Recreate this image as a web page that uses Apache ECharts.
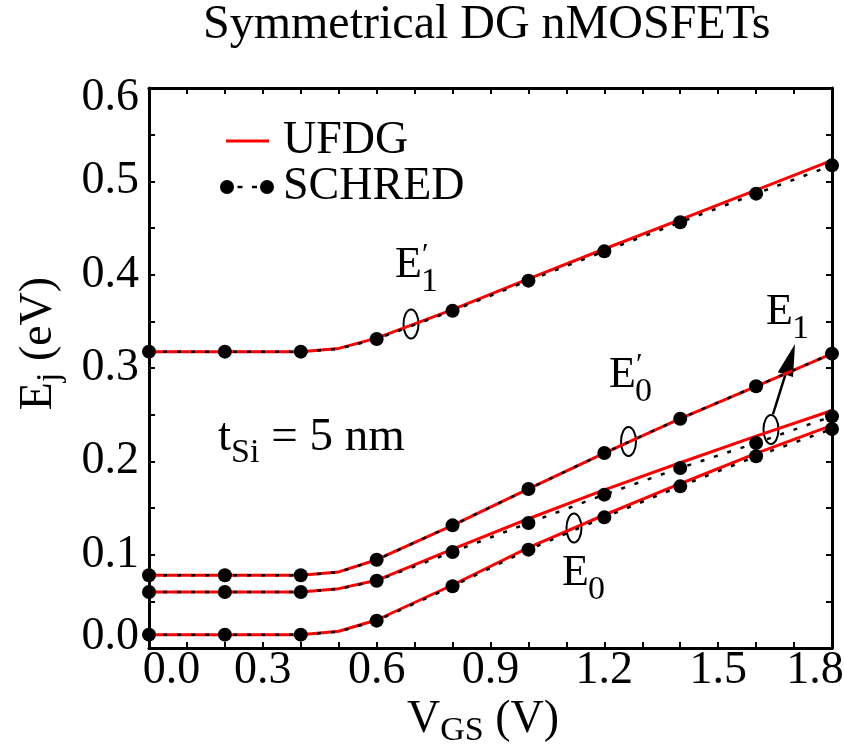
<!DOCTYPE html>
<html><head><meta charset="utf-8">
<script src="https://cdn.jsdelivr.net/npm/echarts@6/dist/echarts.min.js"></script>
<style>html,body{margin:0;padding:0;background:#fff;}#c{width:844px;height:747px;}</style>
</head><body><div id="c"></div>
<script>
const FONT = 'Liberation Serif';
// x positions of the curves (0.5 is the kink point, drawn without marker)
const xLine = [0, 0.2, 0.4, 0.5, 0.6, 0.8, 1.0, 1.2, 1.4, 1.6, 1.8];
// SCHRED (symbols + dotted line)
const schredE1p = [0.3175, 0.3175, 0.3175, 0.3205, 0.3311, 0.3614, 0.3936, 0.4250, 0.4561, 0.4868, 0.5171];
const schredE0p = [0.0779, 0.0779, 0.0779, 0.0812, 0.0946, 0.1314, 0.1704, 0.2089, 0.2457, 0.2804, 0.3154];
const schredE1  = [0.0600, 0.0600, 0.0600, 0.0632, 0.0721, 0.1029, 0.1339, 0.1643, 0.1929, 0.2196, 0.2482];
const schredE0  = [0.0143, 0.0143, 0.0143, 0.0175, 0.0293, 0.0661, 0.1054, 0.1400, 0.1732, 0.2054, 0.2346];
// UFDG (red solid line)
const ufdgE1p = [0.3175, 0.3175, 0.3175, 0.3210, 0.3320, 0.3625, 0.3955, 0.4275, 0.4590, 0.4905, 0.5225];
const ufdgE0p = [0.0779, 0.0779, 0.0779, 0.0815, 0.0946, 0.1314, 0.1704, 0.2089, 0.2457, 0.2804, 0.3154];
const ufdgE1  = [0.0600, 0.0600, 0.0600, 0.0636, 0.0725, 0.1060, 0.1385, 0.1695, 0.1985, 0.2270, 0.2545];
const ufdgE0  = [0.0143, 0.0143, 0.0143, 0.0180, 0.0300, 0.0675, 0.1075, 0.1425, 0.1760, 0.2085, 0.2385];
const xTickLabels = ['0.0', '0.3', '0.6', '0.9', '1.2', '1.5', '1.8'];
const yTickLabels = ['0.0', '0.1', '0.2', '0.3', '0.4', '0.5', '0.6'];
// annotations (data coordinates)
const annoLabels = [
  {sub: '1', prime: true,  at: [0.6483, 0.3943]},
  {sub: '0', prime: true,  at: [1.2123, 0.2764]},
  {sub: '1', prime: false, at: [1.6260, 0.3439]},
  {sub: '0', prime: false, at: [1.0884, 0.0643]}
];
const ellipseCenters = [[0.6905, 0.3471], [1.2637, 0.2213], [1.1200, 0.1286], [1.6392, 0.2341]];
const arrowFrom = [1.6445, 0.2507];
const arrowTo = [1.7025, 0.3257];
const tSiAt = [0.1818, 0.2089];

const chart = echarts.init(document.getElementById('c'), null, {renderer: 'canvas'});

const axisLineStyle = {color: '#000', width: 3};
const tickStyle = {show: true, inside: true, length: 6, lineStyle: {color: '#000', width: 2}};
const txt = (size) => ({fontSize: size, fontFamily: FONT, color: '#000'});

function xFmt(v) {
  const k = Math.round(v * 10);
  if (k % 3 !== 0) return '';
  const s = xTickLabels[k / 3];
  if (k === 0) return '{l|' + s + '}';
  if (k === 18) return '{r|' + s + '}';
  return '{n|' + s + '}';
}
function yFmt(v) {
  const k = Math.round(v * 100);
  if (k % 10 !== 0) return '';
  const s = yTickLabels[k / 10];
  if (k === 0) return '{b|' + s + '}';
  if (k === 60) return '{t|' + s + '}';
  return '{n|' + s + '}';
}

const ufdgIcon = 'path://M0,0L0.01,0L0.01,0.01Z M54,14L53.99,14L53.99,13.99Z M6,5.5H49V8.5H6Z';
const schredIcon = 'path://M0,7A7,7,0,1,0,14,7A7,7,0,1,0,0,7Z M17.5,5.8H22.5V8.2H17.5Z M32,5.8H37V8.2H32Z M40,7A7,7,0,1,0,54,7A7,7,0,1,0,40,7Z';

const ufdgCurves = [ufdgE1p, ufdgE0p, ufdgE1, ufdgE0];
const schredCurves = [schredE1p, schredE0p, schredE1, schredE0];

const series = ufdgCurves.map(arr => ({
  type: 'line', name: 'UFDG', xAxisIndex: 0, yAxisIndex: 0,
  data: xLine.map((x, i) => [x, arr[i]]),
  symbol: 'none', z: 2, silent: true,
  lineStyle: {color: '#ff0000', width: 3},
  itemStyle: {color: '#ff0000'}
})).concat(schredCurves.map(arr => ({
  type: 'line', name: 'SCHRED', xAxisIndex: 0, yAxisIndex: 0,
  data: xLine.map((x, i) => x === 0.5 ? {value: [x, arr[i]], symbol: 'none'} : [x, arr[i]]),
  symbol: 'circle', symbolSize: 14, showAllSymbol: true, z: 3, silent: true,
  lineStyle: {color: '#000', width: 2.5, type: [4, 10]},
  itemStyle: {color: '#000', borderWidth: 0}
})));

const option = {
  animation: false,
  backgroundColor: '#fff',
  title: {
    text: 'Symmetrical DG nMOSFETs', left: 203, top: 0,
    padding: [1, 0, 0, 0],
    textStyle: {fontSize: 48, fontWeight: 'normal', fontFamily: FONT, color: '#000'}
  },
  legend: {
    orient: 'vertical', left: 220, top: 118, padding: 0,
    itemWidth: 54, itemHeight: 14, itemGap: 0, selectedMode: false,
    data: [{name: 'UFDG', icon: ufdgIcon}, {name: 'SCHRED', icon: schredIcon}],
    itemStyle: {borderWidth: 0},
    textStyle: {fontSize: 46, fontFamily: FONT, color: '#000', lineHeight: 41, padding: [0, 0, 0, 4]}
  },
  grid: {left: 149, right: 12, top: 88, bottom: 99, containLabel: false, outerBoundsMode: 'none'},
  xAxis: [{
    type: 'value', min: 0, max: 1.8, interval: 0.1, position: 'bottom',
    axisLine: {show: true, onZero: false, lineStyle: axisLineStyle},
    axisTick: tickStyle, splitLine: {show: false},
    axisLabel: {
      formatter: xFmt, margin: 0, ...txt(46),
      rich: {n: txt(46), l: Object.assign(txt(46), {padding: [0, 0, 0, 45]}), r: Object.assign(txt(46), {padding: [0, 34, 0, 0]})}
    },
    name: '{m|V}{s|GS}{m| (V)}', nameLocation: 'middle', nameGap: 48.5, nameMoveOverlap: false,
    nameTextStyle: {
      padding: [0, 15, 0, 0],
      rich: {
        m: Object.assign(txt(46), {lineHeight: 46, verticalAlign: 'top'}),
        s: Object.assign(txt(34), {lineHeight: 34, verticalAlign: 'top', padding: [18, 0, 0, 0]})
      }
    }
  }, {
    type: 'value', min: 0, max: 1.8, interval: 0.1, position: 'top',
    axisLine: {show: true, onZero: false, lineStyle: axisLineStyle},
    axisTick: tickStyle, axisLabel: {show: false}, splitLine: {show: false}
  }],
  yAxis: [{
    type: 'value', min: 0, max: 0.6, interval: 0.05, position: 'left',
    axisLine: {show: true, onZero: false, lineStyle: axisLineStyle},
    axisTick: tickStyle, splitLine: {show: false},
    axisLabel: {
      formatter: yFmt, margin: 10, ...txt(46),
      rich: {n: txt(46), t: Object.assign(txt(46), {padding: [20, 0, 0, 0]}), b: Object.assign(txt(46), {padding: [0, 0, 22, 0]})}
    },
    name: '{m|E}{s|j}{m| (eV)}', nameLocation: 'middle', nameGap: 87.5, nameMoveOverlap: false,
    nameTextStyle: {
      padding: [0, 0, 0, 49],
      rich: {
        m: Object.assign(txt(46), {lineHeight: 46, verticalAlign: 'top'}),
        s: Object.assign(txt(34), {lineHeight: 34, verticalAlign: 'top', padding: [18, 0, 0, 0]})
      }
    }
  }, {
    type: 'value', min: 0, max: 0.6, interval: 0.05, position: 'right',
    axisLine: {show: true, onZero: false, lineStyle: axisLineStyle},
    axisTick: tickStyle, axisLabel: {show: false}, splitLine: {show: false}
  }],
  series: series
};
chart.setOption(option);

// annotations placed through the axes' own conversion
const toPx = (p) => chart.convertToPixel({xAxisIndex: 0, yAxisIndex: 0}, p);
const graphics = [];
const MID = 0.3375; // middle-baseline offset (em) for the serif font
annoLabels.forEach(a => {
  const [px, py] = toPx(a.at);
  graphics.push({type: 'text', x: px, y: py - MID * 44, silent: true,
    style: {text: 'E', fontSize: 44, fontFamily: FONT, fill: '#000', align: 'left', verticalAlign: 'middle'}});
  graphics.push({type: 'text', x: px + 26, y: py + 14 - MID * 34, silent: true,
    style: {text: a.sub, fontSize: 34, fontFamily: FONT, fill: '#000', align: 'left', verticalAlign: 'middle'}});
  if (a.prime) {
    graphics.push({type: 'text', x: px + 27, y: py - 25, silent: true,
      style: {text: '\u2032', fontSize: 30, fontFamily: FONT, fill: '#000', align: 'left', verticalAlign: 'middle'}});
  }
});
ellipseCenters.forEach(c => {
  const [cx, cy] = toPx(c);
  graphics.push({type: 'ellipse', silent: true, shape: {cx: cx, cy: cy, rx: 7.5, ry: 14.5},
    style: {fill: 'none', stroke: '#000', lineWidth: 2}});
});
(function () {
  const [x1, y1] = toPx(arrowFrom);
  const [x2, y2] = toPx(arrowTo);
  const dx = x2 - x1, dy = y2 - y1, L = Math.hypot(dx, dy);
  const ux = dx / L, uy = dy / L, nx = -uy, ny = ux;
  const headLen = 32, headW = 8;
  const bx = x2 - ux * headLen, by = y2 - uy * headLen;
  graphics.push({type: 'line', silent: true, shape: {x1: x1, y1: y1, x2: bx + ux * 2, y2: by + uy * 2},
    style: {stroke: '#000', lineWidth: 2.5}});
  graphics.push({type: 'polygon', silent: true,
    shape: {points: [[x2, y2], [bx + nx * headW, by + ny * headW], [bx - nx * headW, by - ny * headW]]},
    style: {fill: '#000'}});
})();
(function () {
  const [px, py] = toPx(tSiAt);
  graphics.push({type: 'text', x: px, y: py - 23.5 - MID * 47, silent: true,
    style: {
      text: '{m|t}{s|Si}{m| = 5 nm}', align: 'left', verticalAlign: 'top',
      rich: {
        m: {fontSize: 47, fontFamily: FONT, fill: '#000', lineHeight: 47, verticalAlign: 'top'},
        s: {fontSize: 34, fontFamily: FONT, fill: '#000', lineHeight: 34, verticalAlign: 'top', padding: [22, 0, 0, 0]}
      }
    }});
})();
chart.setOption({graphic: {elements: graphics}});
</script>
</body></html>
